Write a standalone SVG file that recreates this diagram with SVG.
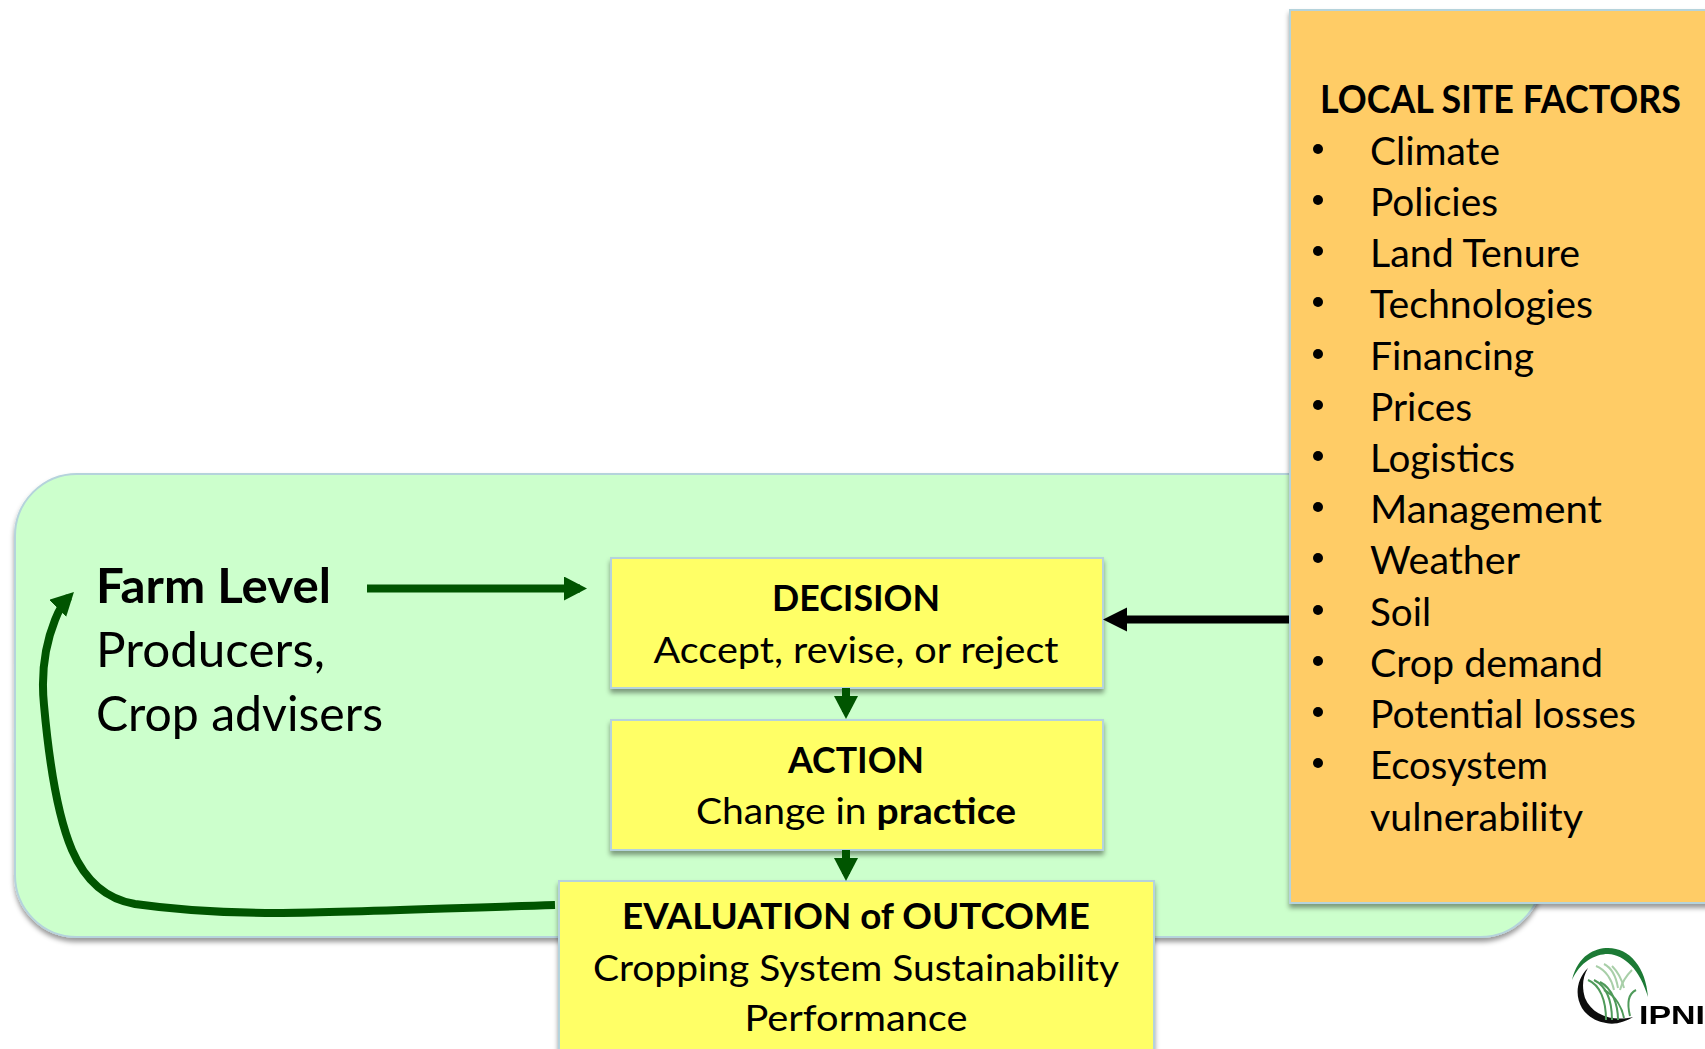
<svg xmlns="http://www.w3.org/2000/svg" width="1705" height="1049" viewBox="0 0 1705 1049">
<style>
text{font-family:Lato,"Liberation Sans",sans-serif;fill:#000}
.m{font-size:37px;text-anchor:middle}
.o{font-size:38px}
.b{font-weight:700}
.f{font-size:48px}
.box{fill:#ffff66;stroke:#b5d3dc;stroke-width:2;filter:url(#sh)}
.g{fill:none;stroke:#005500;stroke-width:8}
</style>
<defs>
<filter id="sh" x="-5%" y="-5%" width="110%" height="115%"><feDropShadow dx="0" dy="4" stdDeviation="2.5" flood-color="#000" flood-opacity=".4"/></filter>
<filter id="bl"><feGaussianBlur stdDeviation=".5"/></filter>
<marker id="ag" markerUnits="userSpaceOnUse" markerWidth="24" markerHeight="26" refX="16" refY="12" orient="auto"><path d="M0 0L23 12L0 24z" fill="#005500"/></marker>
</defs>
<g id="farm-panel"><rect x="15" y="474" width="1527" height="463" rx="62" fill="#ccffcc" stroke="#b5d3dc" stroke-width="2" filter="url(#sh)"/></g>
<g id="farm-level"><text class="f b" x="96" y="603" textLength="235" lengthAdjust="spacingAndGlyphs">Farm Level</text><text class="f" x="96" y="667" textLength="229" lengthAdjust="spacingAndGlyphs">Producers,</text><text class="f" x="96" y="731" textLength="287" lengthAdjust="spacingAndGlyphs">Crop advisers</text></g>
<g id="decision"><rect class="box" x="611" y="558" width="492" height="130"/><text class="m b" x="856" y="611" textLength="168" lengthAdjust="spacingAndGlyphs">DECISION</text><text class="m" x="856" y="663" textLength="405" lengthAdjust="spacingAndGlyphs">Accept, revise, or reject</text></g>
<g id="action"><rect class="box" x="611" y="720" width="492" height="130"/><text class="m b" x="856" y="773" textLength="136" lengthAdjust="spacingAndGlyphs">ACTION</text><text class="m" x="856" y="824" textLength="320" lengthAdjust="spacingAndGlyphs">Change in <tspan class="b">practice</tspan></text></g>
<g id="evaluation"><rect class="box" x="559" y="881" width="595" height="180"/><text class="m b" x="856" y="929" textLength="468" lengthAdjust="spacingAndGlyphs">EVALUATION of OUTCOME</text><text class="m" x="856" y="981" textLength="526" lengthAdjust="spacingAndGlyphs">Cropping System Sustainability</text><text class="m" x="856" y="1031" textLength="223" lengthAdjust="spacingAndGlyphs">Performance</text></g>
<g id="connectors">
<path class="g" d="M367 588.500H580" marker-end="url(#ag)"/>
<path class="g" d="M555 905C450 908 340 913 277 913C220 913 170 909 135 904C105 899 85 880 72 850C55 810 48 750 44 705C41 675 45 645 55 620C58 612 62 604 69 597" marker-end="url(#ag)"/>
<path class="g" d="M846 688V712" marker-end="url(#ag)"/>
<path class="g" d="M846 850V874" marker-end="url(#ag)"/>
<path d="M1290 619.500H1120" fill="none" stroke="#000" stroke-width="8"/><path d="M1103 619.500L1127 607.500V631.500z"/>
</g>
<g id="local-site-factors"><rect x="1290" y="10" width="430" height="893" fill="#ffcc66" stroke="#b5d3dc" stroke-width="2" filter="url(#sh)"/>
<text class="o b" x="1320" y="112.500" textLength="361" lengthAdjust="spacingAndGlyphs">LOCAL SITE FACTORS</text>
<g><text class="o" x="1370" y="165" textLength="130" lengthAdjust="spacingAndGlyphs">Climate</text><text class="o" x="1370" y="216" textLength="128" lengthAdjust="spacingAndGlyphs">Policies</text><text class="o" x="1370" y="267" textLength="210" lengthAdjust="spacingAndGlyphs">Land Tenure</text><text class="o" x="1370" y="318" textLength="223" lengthAdjust="spacingAndGlyphs">Technologies</text><text class="o" x="1370" y="370" textLength="164" lengthAdjust="spacingAndGlyphs">Financing</text><text class="o" x="1370" y="421" textLength="102" lengthAdjust="spacingAndGlyphs">Prices</text><text class="o" x="1370" y="472" textLength="145" lengthAdjust="spacingAndGlyphs">Logistics</text><text class="o" x="1370" y="523" textLength="232" lengthAdjust="spacingAndGlyphs">Management</text><text class="o" x="1370" y="574" textLength="150" lengthAdjust="spacingAndGlyphs">Weather</text><text class="o" x="1370" y="626" textLength="61" lengthAdjust="spacingAndGlyphs">Soil</text><text class="o" x="1370" y="677" textLength="233" lengthAdjust="spacingAndGlyphs">Crop demand</text><text class="o" x="1370" y="728" textLength="266" lengthAdjust="spacingAndGlyphs">Potential losses</text><text class="o" x="1370" y="779" textLength="178" lengthAdjust="spacingAndGlyphs">Ecosystem</text><text class="o" x="1370" y="831" textLength="213" lengthAdjust="spacingAndGlyphs">vulnerability</text></g>
<g fill="#000"><circle cx="1318" cy="149" r="5"/><circle cx="1318" cy="200" r="5"/><circle cx="1318" cy="251" r="5"/><circle cx="1318" cy="302" r="5"/><circle cx="1318" cy="354" r="5"/><circle cx="1318" cy="405" r="5"/><circle cx="1318" cy="456" r="5"/><circle cx="1318" cy="507" r="5"/><circle cx="1318" cy="558" r="5"/><circle cx="1318" cy="610" r="5"/><circle cx="1318" cy="661" r="5"/><circle cx="1318" cy="712" r="5"/><circle cx="1318" cy="763" r="5"/></g></g>
<g id="ipni-logo" filter="url(#bl)">
<path d="M1572 980C1578 955 1595 948 1608 948C1630 948 1646 968 1648 997C1640 970 1625 955 1608 954C1595 954 1580 962 1572 980z" fill="#1d7a35"/>
<path d="M1588 968C1570 985 1575 1018 1606 1023C1615 1025 1625 1022 1633 1017C1612 1022 1592 1015 1585 998C1582 988 1582 978 1588 968z" fill="#111"/>
<g fill="none" stroke="#4f9a5a" stroke-width="2"><path d="M1588 980C1600 985 1606 1000 1606 1020"/><path d="M1594 980C1606 986 1612 1000 1612 1020"/><path d="M1600 982C1612 988 1618 1004 1618 1020"/><path d="M1604 990C1616 996 1622 1008 1624 1018"/><path d="M1636 990C1626 995 1628 1008 1630 1016"/></g>
<g fill="none" stroke="#a8cfa8" stroke-width="2"><path d="M1596 966C1606 970 1612 980 1614 990"/><path d="M1604 964C1612 968 1616 976 1618 988"/><path d="M1612 966C1618 972 1622 980 1624 988"/><path d="M1632 970C1626 976 1622 982 1620 990"/></g>
<text x="1639" y="1024" font-size="26" font-weight="700" style="font-family:'Liberation Sans',sans-serif" fill="#222" textLength="66" lengthAdjust="spacingAndGlyphs">IPNI</text>
</g>
</svg>
